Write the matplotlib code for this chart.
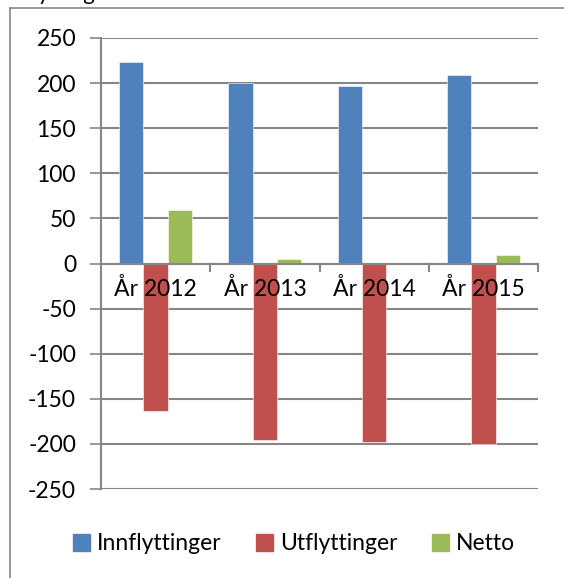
import numpy as np
import matplotlib
matplotlib.use("Agg")
import matplotlib.pyplot as plt
from matplotlib.patches import Rectangle

plt.rcParams['font.family'] = ['Lato', 'DejaVu Sans']

# Data
years = ["År 2012", "År 2013", "År 2014", "År 2015"]
innflyttinger = [223, 200, 197, 209]
utflyttinger = [-164, -196, -198, -200]
netto = [59, 5, 0, 9]
series_names = ["Innflyttinger", "Utflyttinger", "Netto"]
colors = ["#4F81BD", "#C0504D", "#9BBB59"]
yticks = list(range(-250, 251, 50))

fig = plt.figure(figsize=(5.64, 5.78), dpi=100)
ax = fig.add_axes([101 / 564, 1 - 489 / 578, 437 / 564, 451 / 578])

# Outer chart frame (only left and top visible)
fig.add_artist(plt.Line2D([10 / 564, 10 / 564], [0, 1 - 8 / 578], transform=fig.transFigure,
                          color="#868686", lw=1.2))
fig.add_artist(plt.Line2D([10 / 564, 1], [1 - 8 / 578, 1 - 8 / 578], transform=fig.transFigure,
                          color="#868686", lw=1.2))
# Clipped title fragment above
fig.text(20 / 564, 1 - 0.5 / 578, "Flyttinger", fontsize=16, va="baseline", ha="left")

x = np.arange(len(years))
bw = 1 / 4.5
for i, (vals, name, c) in enumerate(zip([innflyttinger, utflyttinger, netto], series_names, colors)):
    ax.bar(x + (i - 1) * bw, vals, width=bw, color=c, label=name, zorder=3,
           edgecolor="white", linewidth=0.4)

ax.set_xlim(-0.5, len(years) - 0.5)
ax.set_ylim(-250, 250)
ax.set_yticks(yticks)
ax.set_yticklabels([str(v) for v in yticks], fontsize=16.5)
ax.yaxis.grid(True, color="#868686", lw=1.5, zorder=0)
ax.tick_params(axis="y", length=8, width=1.2, color="#868686", pad=10)
ax.set_xticks([])

for s in ["top", "right", "bottom"]:
    ax.spines[s].set_visible(False)
ax.spines["left"].set_color("#868686")
ax.spines["left"].set_linewidth(1.5)

# zero axis line with category tick marks
ax.axhline(0, color="#868686", lw=1.5, zorder=4)
for b in np.arange(0.5, len(years) + 0.5, 1):
    ax.plot([b, b], [0, -8], color="#868686", lw=1.5, zorder=4, clip_on=False)

for xi, lab in zip(x, years):
    ax.text(xi, -16, lab, ha="center", va="top", fontsize=16.5, zorder=5)

handles = [Rectangle((0, 0), 1, 1, color=c) for c in colors]
fig.legend(handles, series_names, loc="center", bbox_to_anchor=(294 / 564, 1 - 544 / 578),
           ncol=3, frameon=False, fontsize=16.5, handlelength=0.75, handleheight=0.75,
           handletextpad=0.3, columnspacing=1.5)

fig.savefig("out.png", dpi=100)
